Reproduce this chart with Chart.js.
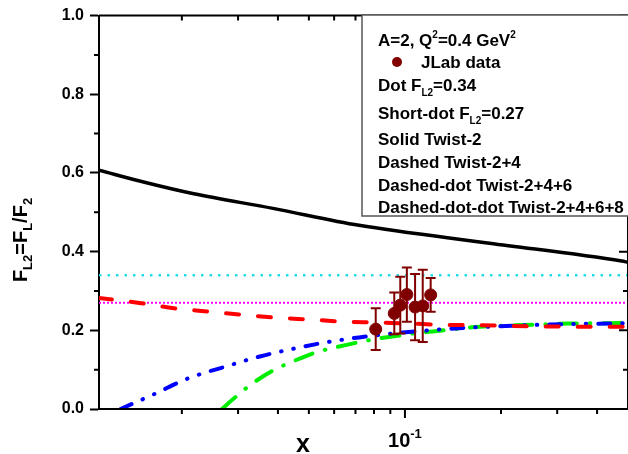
<!DOCTYPE html>
<html><head><meta charset="utf-8">
<script src="https://cdn.jsdelivr.net/npm/chart.js@4"></script>
<style>html,body{margin:0;padding:0;background:#fff}#wrap{width:628px;height:454px;position:relative}</style>
</head><body><div id="wrap"><canvas id="c" width="628" height="454"></canvas></div>
<script>
// ---- data ----
const xTwist2 = [0.011, 0.0155, 0.0218, 0.0386, 0.0718, 0.184, 0.478, 0.5];
const yTwist2 = [0.607, 0.575, 0.547, 0.510, 0.467, 0.4215, 0.376, 0.373];

const xTwist24 = [0.011, 0.0149, 0.0189, 0.024, 0.0304, 0.0391, 0.0496, 0.0637, 0.0809, 0.1027, 0.13, 0.167, 0.27, 0.44, 0.5];
const yTwist24 = [0.282, 0.269, 0.256, 0.248, 0.240, 0.2325, 0.2275, 0.2224, 0.220, 0.2174, 0.214, 0.213, 0.210, 0.209, 0.209];

const xTwist246 = [0.0267, 0.0297, 0.0327, 0.0386, 0.0446, 0.0526, 0.0608, 0.0718, 0.0809, 0.0944, 0.1064, 0.1287, 0.1713, 0.234, 0.326, 0.434, 0.5];
const yTwist246 = [0.0, 0.033, 0.0605, 0.098, 0.121, 0.144, 0.157, 0.170, 0.178, 0.186, 0.192, 0.199, 0.209, 0.2133, 0.2174, 0.218, 0.219];

const xTwist2468 = [0.01285, 0.0164, 0.0208, 0.0277, 0.0351, 0.0446, 0.0566, 0.0718, 0.0829, 0.105, 0.152, 0.218, 0.311, 0.455, 0.5];
const yTwist2468 = [0.0, 0.038, 0.077, 0.109, 0.1335, 0.153, 0.1695, 0.182, 0.188, 0.1965, 0.206, 0.2116, 0.2158, 0.2174, 0.218];

const xRefLine = [0.011, 0.5];
const dotLevel = 0.34;
const shortDotLevel = 0.27;

const dataX = [0.081, 0.0926, 0.0967, 0.1014, 0.1076, 0.1137, 0.1204];
const dataY = [0.203, 0.243, 0.264, 0.291, 0.259, 0.262, 0.290];
const dataErr = [0.053, 0.053, 0.072, 0.069, 0.084, 0.092, 0.043];

const yMajorTicks = [0, 0.2, 0.4, 0.6, 0.8, 1.0];
const yMinorTicks = [0.1, 0.3, 0.5, 0.7, 0.9];
const xMajorTicks = [0.1];
const xMinorTicks = [0.02, 0.03, 0.04, 0.05, 0.06, 0.07, 0.08, 0.09, 0.2, 0.3, 0.4];

// ---- helpers ----
const FONT = '"Liberation Sans", Arial, sans-serif';
const pts = (xs, ys) => xs.map((x, i) => ({x, y: ys[i]}));
function rich(ctx, parts, x, y) {
  let cx = x;
  for (const p of parts) {
    ctx.font = `bold ${p.s}px ${FONT}`;
    ctx.fillText(p.t, cx, y + (p.dy || 0));
    cx += ctx.measureText(p.t).width;
  }
  return cx;
}
function richWidth(ctx, parts) {
  let w = 0;
  for (const p of parts) { ctx.font = `bold ${p.s}px ${FONT}`; w += ctx.measureText(p.t).width; }
  return w;
}

const extras = {
  id: 'extras',
  afterDatasetsDraw(chart) {
    const ctx = chart.ctx, xs = chart.scales.x, ys = chart.scales.y;
    ctx.save();
    ctx.strokeStyle = '#800000';
    ctx.lineWidth = 2;
    dataX.forEach((xv, i) => {
      const px = xs.getPixelForValue(xv);
      const top = ys.getPixelForValue(dataY[i] + dataErr[i]);
      const bot = ys.getPixelForValue(dataY[i] - dataErr[i]);
      ctx.beginPath();
      ctx.moveTo(px, top); ctx.lineTo(px, bot);
      ctx.moveTo(px - 5, top); ctx.lineTo(px + 5, top);
      ctx.moveTo(px - 5, bot); ctx.lineTo(px + 5, bot);
      ctx.stroke();
    });
    ctx.restore();
  },
  afterDraw(chart) {
    const ctx = chart.ctx, xs = chart.scales.x, ys = chart.scales.y, a = chart.chartArea;
    ctx.save();
    // frame
    ctx.strokeStyle = '#000';
    ctx.lineWidth = 2;
    ctx.beginPath();
    ctx.moveTo(a.left, a.top); ctx.lineTo(a.right, a.top);
    ctx.moveTo(a.left, a.bottom); ctx.lineTo(a.right, a.bottom);
    ctx.moveTo(a.right, a.top); ctx.lineTo(a.right, a.bottom);
    ctx.stroke();
    // x ticks
    ctx.lineWidth = 2;
    ctx.beginPath();
    xMinorTicks.forEach(v => {
      const px = xs.getPixelForValue(v);
      ctx.moveTo(px, a.bottom); ctx.lineTo(px, a.bottom + 5);
      ctx.moveTo(px, a.top); ctx.lineTo(px, a.top + 5);
    });
    xMajorTicks.forEach(v => {
      const px = xs.getPixelForValue(v);
      ctx.moveTo(px, a.bottom); ctx.lineTo(px, a.bottom + 9);
      ctx.moveTo(px, a.top); ctx.lineTo(px, a.top + 9);
    });
    // y minor ticks and right-side ticks
    yMinorTicks.forEach(v => {
      const py = ys.getPixelForValue(v);
      ctx.moveTo(a.left - 5, py); ctx.lineTo(a.left, py);
      ctx.moveTo(a.right - 5, py); ctx.lineTo(a.right, py);
    });
    yMajorTicks.forEach(v => {
      const py = ys.getPixelForValue(v);
      ctx.moveTo(a.right - 9, py); ctx.lineTo(a.right, py);
    });
    ctx.stroke();

    ctx.fillStyle = '#000';
    ctx.textBaseline = 'alphabetic';
    // x tick label 10^-1
    const lab = [{t: '10', s: 20}, {t: '-1', s: 13, dy: -9}];
    const lw = richWidth(ctx, lab);
    rich(ctx, lab, xs.getPixelForValue(0.1) - lw / 2, 447);
    // x title
    ctx.font = `bold 25px ${FONT}`;
    ctx.textAlign = 'center';
    ctx.fillText('x', 303, 452);
    ctx.textAlign = 'left';
    // y title (rotated)
    const yt = [{t: 'F', s: 20}, {t: 'L2', s: 13, dy: 5}, {t: '=F', s: 20}, {t: 'L', s: 13, dy: 5}, {t: '/F', s: 20}, {t: '2', s: 13, dy: 5}];
    const yw = richWidth(ctx, yt);
    ctx.save();
    ctx.translate(27, 240);
    ctx.rotate(-Math.PI / 2);
    rich(ctx, yt, -yw / 2, 0);
    ctx.restore();

    // legend box
    ctx.fillStyle = '#fff';
    ctx.fillRect(362, 15, 290, 201);
    ctx.strokeStyle = '#555';
    ctx.lineWidth = 1.5;
    ctx.strokeRect(362, 15, 290, 201);
    ctx.fillStyle = '#000';
    const L = 378, S = 17, s = 10;
    rich(ctx, [{t: 'A=2, Q', s: S}, {t: '2', s: s, dy: -8}, {t: '=0.4 GeV', s: S}, {t: '2', s: s, dy: -8}], L, 46);
    ctx.fillStyle = '#800000';
    ctx.beginPath(); ctx.arc(397, 62, 5, 0, Math.PI * 2); ctx.fill();
    ctx.fillStyle = '#000';
    rich(ctx, [{t: 'JLab data', s: S}], 421, 68);
    rich(ctx, [{t: 'Dot F', s: S}, {t: 'L2', s: s, dy: 5}, {t: '=0.34', s: S}], L, 91);
    rich(ctx, [{t: 'Short-dot F', s: S}, {t: 'L2', s: s, dy: 5}, {t: '=0.27', s: S}], L, 119);
    rich(ctx, [{t: 'Solid Twist-2', s: S}], L, 145);
    rich(ctx, [{t: 'Dashed Twist-2+4', s: S}], L, 168);
    rich(ctx, [{t: 'Dashed-dot Twist-2+4+6', s: S}], L, 191);
    rich(ctx, [{t: 'Dashed-dot-dot Twist-2+4+6+8', s: S}], L, 213);
    ctx.restore();
  }
};

new Chart(document.getElementById('c'), {
  type: 'scatter',
  data: {
    datasets: [
      {label: 'JLab data', data: pts(dataX, dataY), pointRadius: 6, pointHoverRadius: 6,
       backgroundColor: '#800000', borderColor: '#800000', showLine: false, order: 0},
      {label: 'Solid Twist-2', data: pts(xTwist2, yTwist2), showLine: true, borderColor: '#000',
       borderWidth: 3.5, pointRadius: 0, cubicInterpolationMode: 'monotone', order: 1},
      {label: 'Dashed Twist-2+4', data: pts(xTwist24, yTwist24), showLine: true, borderColor: '#ff0000',
       borderWidth: 4, borderDash: [13, 19], borderCapStyle: 'round', pointRadius: 0, cubicInterpolationMode: 'monotone', order: 2},
      {label: 'Dashed-dot Twist-2+4+6', data: pts(xTwist246, yTwist246), showLine: true, borderColor: '#00ee00',
       borderWidth: 4, borderDash: [18, 13, 0.5, 13], borderCapStyle: 'round', pointRadius: 0, cubicInterpolationMode: 'monotone', order: 3},
      {label: 'Dashed-dot-dot Twist-2+4+6+8', data: pts(xTwist2468, yTwist2468), showLine: true, borderColor: '#0000ff',
       borderWidth: 4, borderDash: [12, 12, 0.5, 12, 0.5, 12], borderCapStyle: 'round', pointRadius: 0, cubicInterpolationMode: 'monotone', order: 2.5},
      {label: 'Dot', data: pts(xRefLine, [dotLevel, dotLevel]), showLine: true, borderColor: '#22dde8',
       borderWidth: 2.5, borderDash: [2.5, 6], pointRadius: 0, order: 5},
      {label: 'Short-dot', data: pts(xRefLine, [shortDotLevel, shortDotLevel]), showLine: true, borderColor: '#ff00ff',
       borderWidth: 2, borderDash: [2, 2], pointRadius: 0, order: 6}
    ]
  },
  options: {
    responsive: false,
    animation: false,
    layout: {autoPadding: false, padding: {left: 0, right: -5, top: 12, bottom: 45}},
    plugins: {legend: {display: false}, tooltip: {enabled: false}},
    scales: {
      x: {type: 'logarithmic', min: 0.011, max: 0.5, display: false},
      y: {
        min: 0, max: 1,
        ticks: {stepSize: 0.2, color: '#000', padding: 6,
                font: {family: FONT, size: 16, weight: 'bold'},
                callback: v => Number(v).toFixed(1)},
        grid: {drawOnChartArea: false, tickLength: 9, tickWidth: 2, tickColor: '#000'},
        border: {display: true, color: '#000', width: 2},
        afterFit(s) { s.width = 99; }
      }
    }
  },
  plugins: [extras]
});
</script>
</body></html>
